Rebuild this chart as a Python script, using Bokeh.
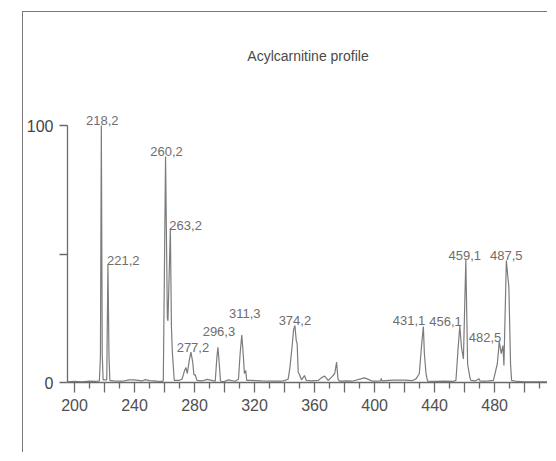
from bokeh.plotting import figure
from bokeh.models import FixedTicker, ColumnDataSource, Range1d
from bokeh.embed import file_html
from bokeh.resources import INLINE

# ---- data ----
mz = [195.4, 200, 205, 210, 214, 216.6, 217.3, 217.9, 218.5, 219.1, 221.5, 222.3, 223.0, 223.6,
      226, 232, 236.3, 240, 245, 247.3, 250, 255, 258.6, 259.2, 260.7, 261.9, 262.3, 263.9, 264.6,
      265.2, 266.5, 269.5, 271.7, 273.4, 274.3, 275.2, 276.5, 277.6, 278.8, 279.6, 280.5, 281.6,
      285, 288.3, 291.6, 293.8, 294.9, 295.6, 296.4, 297.3, 299.3, 302.6, 307, 309.3, 310.4, 311.5,
      312.6, 313.2, 314.1, 314.8, 318, 325, 332, 338, 340.2, 342.4, 343.5, 345.1, 346.0, 346.9,
      347.8, 348.4, 349.1, 350, 351.3, 353.3, 354.5, 358, 362.4, 364.5, 366.7, 369, 371.2, 373.4,
      374.7, 375.6, 376.7, 382, 385, 393.2, 395.4, 398.7, 404, 404.4, 405, 412, 420, 425, 427.6,
      429.8, 431.5, 432.5, 433.2, 434.3, 435.3, 440, 447, 452, 454.2, 455.7, 456.8, 457.9, 459.2,
      460.8, 462.0, 463.5, 464.1, 467, 469.6, 470.3, 473, 476, 479.2, 481.8, 483.1, 484.4, 485.5,
      486.2, 487.8, 489.0, 489.5, 490.6, 491.3, 495, 500, 510, 516]
intensity = [0.3, 0.4, 0.3, 0.5, 0.4, 0.6, 10, 100, 11, 1.0, 1.0, 46, 10, 0.8,
             0.6, 0.5, 1.0, 1.0, 0.6, 1.1, 0.7, 0.5, 0.4, 0.8, 88, 25, 24, 60, 22,
             12, 0.8, 0.8, 1.3, 4.7, 5.8, 3.5, 8.6, 11.8, 7.9, 3.0, 3.0, 0.8,
             0.6, 1.2, 0.8, 0.5, 9.8, 13.7, 8.0, 0.6, 0.3, 1.0, 0.5, 1.3, 11.4, 18.5,
             9.8, 3.5, 4.7, 0.8, 0.8, 0.6, 0.5, 0.5, 0.8, 1.3, 5.5, 14.4, 20.5, 22.2,
             16.3, 15.0, 4.0, 3.0, 1.0, 2.7, 0.8, 0.6, 0.8, 1.8, 2.5, 0.8, 2.0, 3.4,
             7.9, 1.3, 0.5, 0.6, 0.5, 1.8, 1.3, 0.5, 0.6, 1.6, 0.6, 0.9, 0.9, 0.7, 1.4,
             3.4, 15.7, 21.8, 11, 3.4, 0.5, 0.4, 0.5, 0.4, 0.8, 13.7, 22, 13.7, 9.2,
             47.7, 7.2, 2.0, 0.8, 0.6, 1.5, 0.6, 0.5, 0.6, 0.8, 7.3, 16.0, 11.2, 14.4,
             6.6, 47.5, 40, 37, 7.3, 0.8, 0.4, 0.3, 0.3, 0.3]

peak_labels = ["218,2", "221,2", "260,2", "263,2", "277,2", "296,3", "311,3",
               "374,2", "431,1", "456,1", "459,1", "482,5", "487,5"]
peak_mz = [217.9, 222.3, 260.7, 263.9, 277.6, 295.6, 311.5,
           346.9, 432.5, 456.8, 460.8, 483.1, 487.8]
peak_int = [100, 46, 88, 60, 11.8, 13.7, 18.5, 22.2, 21.8, 22, 47.7, 16.0, 47.5]

x_major_ticks = list(range(200, 521, 20))
x_minor_ticks = list(range(210, 520, 20))
x_tick_labels = [200, 240, 280, 320, 360, 400, 440, 480]
y_ticks = [0, 50, 100]
y_tick_labels = [0, 100]

title_text = "Acylcarnitine profile"

# ---- label placement (style) ----
label_style = [("center", 1, -5), ("left", -1, -4), ("center", 1, -5), ("left", -1, -3),
               ("center", 2, -5), ("center", 1, -16), ("center", 3, -21), ("center", 0, -5),
               ("right", 2, -6), ("right", 2, -4), ("center", -1, -4), ("right", 2, -4),
               ("center", 0, -5)]

FONT = "Liberation Sans"

p = figure(width=525, height=441, output_backend="svg", toolbar_location=None,
           x_range=Range1d(195.35, 515.9), y_range=Range1d(0, 111.7),
           min_border_left=40, min_border_right=0, min_border_top=83, min_border_bottom=71,
           margin=(11, 0, 0, 22),
           styles={"border-left": "1px solid #7a7a7a", "border-top": "1px solid #7a7a7a"})
p.outline_line_color = None
p.xgrid.visible = False
p.ygrid.visible = False
p.background_fill_color = "white"
p.border_fill_color = "white"

p.title.text = title_text
p.title.align = "center"
p.title.text_font = FONT
p.title.text_font_size = "14px"
p.title.text_font_style = "normal"
p.title.text_color = "#4a4a4a"
p.title.standoff = 63
p.title.offset = 2

ax = p.xaxis[0]
ax.ticker = FixedTicker(ticks=x_major_ticks, minor_ticks=x_minor_ticks)
ax.major_label_overrides = {t: (str(t) if t in x_tick_labels else "") for t in x_major_ticks}
ax.major_tick_out = 10
ax.major_tick_in = 0
ax.minor_tick_out = 6
ax.minor_tick_in = 0
ax.major_label_standoff = 6
ax.major_label_text_font = FONT
ax.major_label_text_font_size = "16px"
ax.major_label_text_color = "#505050"
ax.axis_line_color = "#6a6a6a"
ax.axis_line_width = 1.3
ax.major_tick_line_color = "#6a6a6a"
ax.major_tick_line_width = 1.3
ax.minor_tick_line_color = "#6a6a6a"
ax.minor_tick_line_width = 1.3

ay = p.yaxis[0]
ay.ticker = FixedTicker(ticks=y_ticks, minor_ticks=[])
ay.major_label_overrides = {t: (str(t) if t in y_tick_labels else "") for t in y_ticks}
ay.bounds = (0, 100)
ay.major_tick_out = 8
ay.major_tick_in = 0
ay.minor_tick_out = 0
ay.minor_tick_in = 0
ay.major_label_standoff = 6
ay.major_label_text_font = FONT
ay.major_label_text_font_size = "16px"
ay.major_label_text_color = "#444444"
ay.axis_line_color = "#6a6a6a"
ay.axis_line_width = 1.3
ay.major_tick_line_color = "#6a6a6a"
ay.major_tick_line_width = 1.3

p.line(mz, intensity, line_color="#7c7c7c", line_width=1.2)

for align in ("center", "left", "right"):
    idx = [i for i, s in enumerate(label_style) if s[0] == align]
    src = ColumnDataSource(dict(
        x=[peak_mz[i] for i in idx],
        y=[peak_int[i] for i in idx],
        t=[peak_labels[i] for i in idx],
        dx=[label_style[i][1] for i in idx],
        dy=[label_style[i][2] for i in idx],
    ))
    p.text(x="x", y="y", text="t", source=src, x_offset="dx", y_offset="dy",
           text_align=align, text_baseline="alphabetic", text_font={"value": FONT},
           text_font_size="13px", text_color="#6e6e6e")

open("out.html", "w").write(file_html(p, INLINE))
